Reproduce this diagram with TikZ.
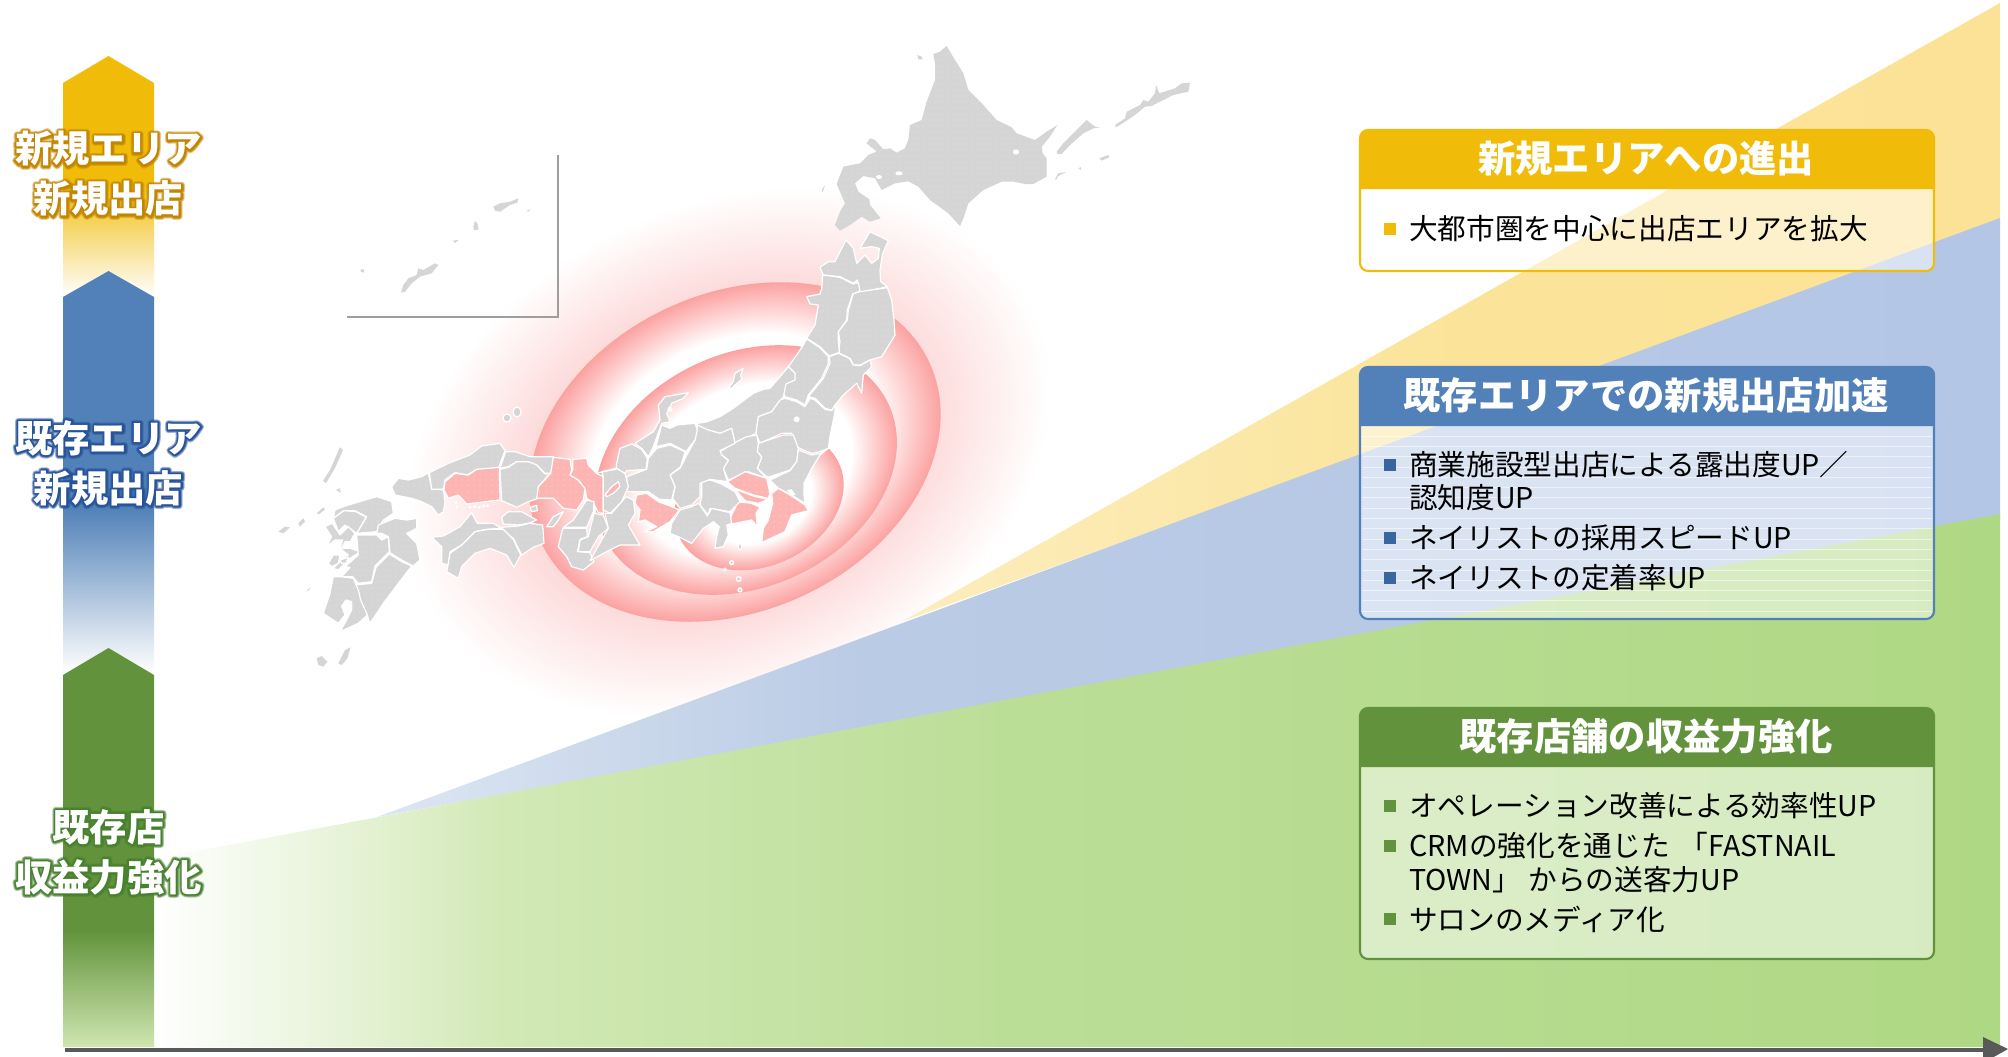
\documentclass[tikz,border=0pt]{standalone}
\usepackage{fontspec}
\usetikzlibrary{patterns.meta}
\setmainfont{Noto Sans CJK JP}
\definecolor{cy}{HTML}{F0BC09}
\definecolor{cb}{HTML}{5181B8}
\definecolor{cg}{HTML}{62933C}
\definecolor{bully}{HTML}{F0BC09}
\definecolor{bullb}{HTML}{3A669F}
\definecolor{bullg}{HTML}{62933C}
\definecolor{mapg}{HTML}{D5D5D5}
\definecolor{mapp}{HTML}{FDB5B3}
\definecolor{ringp}{HTML}{FBA2A1}
\definecolor{glowp}{HTML}{FDD8D8}
\definecolor{gw1}{HTML}{D2E9B6}\definecolor{gw2}{HTML}{BBDE97}\definecolor{gw3}{HTML}{AFD884}
\definecolor{bw1}{HTML}{DDE6F2}\definecolor{bw2}{HTML}{BACBE5}\definecolor{bw3}{HTML}{B3C6E6}
\definecolor{yw1}{HTML}{FCEDBD}\definecolor{yw2}{HTML}{FBE49A}\definecolor{yw3}{HTML}{FCE296}
\definecolor{gfade}{HTML}{CFE6B0}
\pgfdeclarehorizontalshading{greenw}{100bp}{color(0bp)=(white);color(25bp)=(white);color(34.4bp)=(gw1);color(48bp)=(gw2);color(75bp)=(gw3);color(100bp)=(gw3)}
\pgfdeclarehorizontalshading{bluew}{100bp}{color(0bp)=(bw1);color(25bp)=(bw1);color(40bp)=(bw2);color(75bp)=(bw3);color(100bp)=(bw3)}
\pgfdeclarehorizontalshading{yelw}{100bp}{color(0bp)=(yw1);color(25bp)=(yw1);color(50bp)=(yw2);color(75bp)=(yw3);color(100bp)=(yw3)}
\pgfdeclareverticalshading{yarrow}{100bp}{color(0bp)=(white);color(25bp)=(white);color(48.6bp)=(cy);color(100bp)=(cy)}
\pgfdeclareverticalshading{barrow}{100bp}{color(0bp)=(white);color(25bp)=(white);color(45.6bp)=(cb);color(100bp)=(cb)}
\pgfdeclareverticalshading{garrow}{100bp}{color(0bp)=(gfade);color(25bp)=(gfade);color(39.7bp)=(cg);color(100bp)=(cg)}
\pgfdeclareradialshading{glowsh}{\pgfpointorigin}{color(0bp)=(glowp);color(15bp)=(glowp);color(25bp)=(white);color(50bp)=(white)}
\pgfdeclareradialshading{ringa}{\pgfpointorigin}{color(0bp)=(white);color(17.5bp)=(white);color(25bp)=(ringp);color(50bp)=(ringp)}
\pgfdeclareradialshading{ringc}{\pgfpointorigin}{color(0bp)=(white);color(15.5bp)=(white);color(25bp)=(ringp);color(50bp)=(ringp)}
% a white line of text with a soft halo of colour #1 (one source text, halo strokes under the fill)
\newcommand\halotext[2]{%
  \makebox[0pt][l]{\pgfsetstrokeopacity{0.4}\special{pdf:code #1 RG 1 j 5 w 1 Tr}#2}%
  \makebox[0pt][l]{\pgfsetstrokeopacity{0.65}\special{pdf:code #1 RG 1 j 3.6 w 1 Tr}#2}%
  \makebox[0pt][l]{\pgfsetstrokeopacity{1}\special{pdf:code #1 RG 1 j 2.2 w 1 Tr}#2\special{pdf:code 0 Tr}}%
  #2}
\tikzset{
  crop/.style 2 args={shift={(#1,#2)},x=0.25pt,y=-0.25pt},
  dotted map/.style={postaction={pattern={Dots[radius=0.22pt,distance=4.5pt]},pattern color=white}},
  mg/.style={fill=mapg,draw=white,line width=0.9pt,line join=round,dotted map},
  mp/.style={fill=mapp,draw=white,line width=0.9pt,line join=round,dotted map},
  mi/.style={fill=mapg,draw=none,dotted map},
  mh/.style={fill=white,draw=none},
  title/.style={text=white,font=\fontsize{28pt}{34pt}\selectfont\bfseries,anchor=center,inner sep=0pt},
  item/.style={text=black,font=\fontsize{21.5pt}{25.1pt}\selectfont,anchor=west,align=left,inner sep=0pt},
  side/.style={text=white,font=\fontsize{28pt}{37.5pt}\selectfont\bfseries,anchor=center,align=center,inner sep=0pt},
  panelb/.style={fill=white,fill opacity=.5,draw=#1,draw opacity=1,line width=1.6pt,rounded corners=6pt},
  bulletm/.style={fill=#1,minimum size=8.6pt,inner sep=0pt,draw=none,anchor=center}
}
\begin{document}
\begin{tikzpicture}[x=0.75pt,y=-0.75pt]
\path[use as bounding box,fill=white] (0,0) rectangle (2008,1056);
% ---- glow and rings
\shade[shading=glowsh,transform canvas={shift={(728,452)},rotate=24.5}] (0,0) ellipse [x radius=252pt,y radius=186pt];
\shade[shading=ringa,transform canvas={shift={(735,452)},rotate=24.5}] (0,0) ellipse [x radius=160.5pt,y radius=119.25pt];
\shade[shading=ringa,transform canvas={shift={(746,470)},rotate=24.5}] (0,0) ellipse [x radius=117.75pt,y radius=87.75pt];
\shade[shading=ringc,transform canvas={shift={(759,500)},rotate=24.5}] (0,0) ellipse [x radius=66pt,y radius=49.5pt];
% ---- wedges
\shade[shading=yelw] (903,621) -- (2000,3) -- (2000,225) -- cycle;
\shade[shading=bluew] (377,817) -- (2000,218) -- (2000,520) -- cycle;
\shade[shading=greenw] (154,859) -- (2000,514) -- (2000,1047) -- (154,1047) -- cycle;
% ---- left arrows
\shade[shading=yarrow] (63,297) -- (63,83) -- (108.5,56) -- (154,83) -- (154,297) -- cycle;
\shade[shading=barrow] (63,673) -- (63,297) -- (108.5,271) -- (154,297) -- (154,673) -- cycle;
\shade[shading=garrow] (63,1047) -- (63,675) -- (108.5,648) -- (154,675) -- (154,1047) -- cycle;
% ---- axis
\coordinate (axisL) at (65,1050);
\coordinate (axisR) at (1985,1050);
\draw[draw=black!65,line width=3.6pt] (axisL) -- (axisR);
\fill[black!65] (1983,1037) -- (2008,1049) -- (1983,1063) -- cycle;
% ---- inset frame
\coordinate (insA) at (558,155);\coordinate (insB) at (558,317);\coordinate (insC) at (347,317);
\draw[draw=black!38,line width=0.9pt] (insA) -- (insB) -- (insC);
% ---- Okinawa inset
\begin{scope}[crop={340}{150}]
\fill[mi] plot coordinates {(183,428) (190,405) (205,385) (230,375) (235,355) (250,360) (285,340) (295,345) (275,370) (240,380) (215,400) (195,425)} -- cycle;
\fill[mi] plot coordinates {(405,213) (412,220) (416,238) (402,241) (400,230)} -- cycle;
\fill[mi] plot coordinates {(460,170) (480,160) (510,155) (535,145) (532,158) (510,165) (480,185) (465,182)} -- cycle;
\fill[mi] plot coordinates {(62,358) (72,358) (72,368) (62,365)} -- cycle;
\fill[mi] plot coordinates {(338,272) (356,270) (345,279)} -- cycle;
\fill[mi] plot coordinates {(560,182) (572,178) (565,185)} -- cycle;
\end{scope}
% ---- Hokkaido
\begin{scope}[crop={820}{40}]
\fill[mi] plot coordinates {(340,42) (360,35) (380,18) (405,60) (430,100) (445,150) (490,195) (530,240) (575,262) (590,280) (645,300) (680,275) (712,255) (690,290) (665,320) (668,340) (680,355) (680,410) (640,432) (615,432) (580,425) (545,425) (490,450) (445,490) (432,530) (420,558) (385,520) (330,480) (295,440) (265,424) (225,430) (185,450) (165,415) (130,408) (105,430) (115,455) (148,478) (150,495) (182,535) (150,545) (125,530) (90,555) (60,572) (45,555) (60,515) (75,490) (62,460) (50,432) (70,380) (120,370) (145,345) (170,335) (140,310) (150,295) (165,300) (190,328) (210,325) (230,338) (255,325) (265,300) (270,255) (305,240) (320,185) (345,120) (345,70)} -- cycle;
\fill[mh] (588,336) ellipse [x radius=9,y radius=8];
\fill[mh] (237,400) ellipse [x radius=11,y radius=6];
\fill[mh] (177,411) ellipse [x radius=9,y radius=6];
\fill[mi] plot coordinates {(292,45) (305,50) (308,58) (295,58)} -- cycle;
\fill[mi] plot coordinates {(710,335) (730,310) (770,270) (800,240) (825,260) (840,262) (820,265) (790,280) (750,315) (725,342) (712,342)} -- cycle;
\fill[mi] plot coordinates {(885,255) (915,235) (920,215) (960,195) (970,180) (985,185) (1005,160) (1008,135) (1018,160) (1065,145) (1085,130) (1110,128) (1105,155) (1060,165) (1010,190) (995,198) (975,200) (945,225) (915,245) (888,262)} -- cycle;
\fill[mi] plot coordinates {(838,355) (865,345) (868,352) (845,362)} -- cycle;
\fill[mi] plot coordinates {(775,385) (782,381) (783,390)} -- cycle;
\fill[mi] plot coordinates {(705,418) (715,400) (738,396) (715,408) (708,420)} -- cycle;
\fill[mi] plot coordinates {(5,450) (15,435) (12,445) (8,456)} -- cycle;
\end{scope}
% ---- Tohoku
\begin{scope}[crop={760}{220}]
\draw[mg] plot coordinates {(180,142) (205,125) (225,125) (258,60) (280,85) (290,130) (315,105) (335,130) (355,115) (358,85) (335,80) (300,85) (330,35) (385,62) (368,100) (360,150) (362,185) (382,200) (300,218) (292,180) (280,190) (240,170) (190,165)} -- cycle;
\draw[mg] plot coordinates {(382,203) (395,240) (402,300) (405,345) (390,370) (365,410) (330,420) (300,435) (280,435) (270,415) (235,398) (240,365) (235,335) (262,300) (265,270) (280,220) (300,215)} -- cycle;
\draw[mg] plot coordinates {(188,165) (240,172) (280,192) (295,188) (300,213) (278,222) (262,270) (260,300) (235,335) (235,365) (238,397) (208,408) (180,380) (140,355) (165,315) (175,255) (150,252) (140,230) (180,222) (185,205)} -- cycle;
\draw[mg] plot coordinates {(140,357) (178,382) (205,410) (205,430) (185,475) (145,525) (135,555) (110,540) (75,530) (65,510) (78,490) (100,480) (105,460) (85,440) (110,405) (130,375)} -- cycle;
\draw[mg] plot coordinates {(208,410) (235,400) (268,415) (280,435) (300,437) (330,420) (335,440) (310,465) (305,520) (290,490) (250,525) (225,555) (215,570) (195,565) (165,535) (145,530) (190,475) (210,430)} -- cycle;
\end{scope}
% ---- Chubu and Kanto
\begin{scope}[crop={620}{380}]
\draw[mg] plot coordinates {(232,130) (262,125) (300,110) (340,85) (400,40) (430,28) (450,25) (480,-10) (505,-40) (525,-20) (525,0) (498,12) (490,50) (455,95) (415,110) (408,160) (345,190) (335,145) (300,160) (265,150) (235,150)} -- cycle;
\draw[mg] plot coordinates {(328,20) (340,5) (345,-20) (370,-35) (362,-15) (365,-2) (345,15) (333,27)} -- cycle;
\draw[mg] plot coordinates {(480,60) (495,55) (530,65) (555,80) (570,55) (585,60) (615,88) (635,92) (648,75) (642,110) (630,170) (625,205) (600,215) (575,220) (550,210) (530,200) (515,160) (485,160) (420,190) (408,160) (415,110) (455,95)} -- cycle;
\fill[mh] (530,118) circle [radius=9];
\draw[mg] plot coordinates {(415,190) (490,165) (520,165) (535,205) (530,245) (510,270) (450,290) (440,290) (412,265) (425,230) (412,215)} -- cycle;
\draw[mg] plot coordinates {(300,215) (340,190) (380,170) (410,165) (415,190) (412,215) (425,232) (412,265) (440,295) (385,275) (325,300) (310,265) (325,240) (305,225)} -- cycle;
\draw[mg] plot coordinates {(535,210) (575,225) (600,220) (625,205) (600,225) (575,265) (552,310) (552,345) (555,370) (515,345) (475,325) (450,300) (510,272) (530,245)} -- cycle;
\fill[mh] plot coordinates {(500,330) (515,328) (527,345) (515,347)} -- cycle;
\draw[mp] plot coordinates {(322,305) (375,275) (440,295) (450,340) (445,355) (400,345) (360,330) (345,325)} -- cycle;
\draw[mp] plot coordinates {(345,328) (400,348) (445,358) (415,370) (375,362) (360,345)} -- cycle;
\draw[mp] plot coordinates {(455,340) (475,325) (515,348) (555,375) (565,392) (515,405) (495,455) (425,488) (430,445) (445,420) (458,370)} -- cycle;
\draw[mp] plot coordinates {(355,365) (395,370) (420,382) (408,400) (412,440) (395,420) (335,432) (330,415)} -- cycle;
\draw[mg] plot coordinates {(245,305) (270,300) (300,310) (345,335) (360,365) (330,395) (270,385) (265,405) (240,375) (245,350)} -- cycle;
\draw[mg] plot coordinates {(235,370) (240,375) (262,408) (275,385) (330,398) (335,430) (320,435) (325,465) (310,500) (285,505) (290,470) (298,440) (280,425) (250,445) (215,490) (175,470) (150,460) (155,430) (180,390) (215,380)} -- cycle;
\draw[mp] plot coordinates {(50,345) (80,340) (115,365) (150,378) (178,390) (150,425) (100,455) (75,455) (110,440) (75,420) (55,425) (60,390) (45,370)} -- cycle;
\draw[mg] plot coordinates {(232,135) (265,150) (300,160) (335,145) (345,190) (300,212) (305,225) (325,242) (310,265) (322,305) (270,298) (240,310) (240,350) (215,375) (180,385) (158,355) (165,320) (150,285) (180,265) (198,230) (225,180)} -- cycle;
\draw[mg] plot coordinates {(110,205) (150,195) (195,215) (182,260) (150,285) (165,320) (155,360) (118,358) (85,335) (20,335) (20,290) (80,268) (85,235)} -- cycle;
\draw[mg] plot coordinates {(108,200) (125,135) (150,145) (170,135) (225,130) (232,150) (225,180) (198,215) (150,190)} -- cycle;
\draw[mg] plot coordinates {(45,190) (100,155) (120,120) (115,75) (135,50) (205,38) (190,55) (155,70) (140,100) (150,125) (125,130) (100,200) (85,230) (65,205)} -- cycle;
\fill[mh] (150,88) circle [radius=8];
\fill[mh] (142,450) circle [radius=8];
\end{scope}
% ---- Kinki, Chugoku, Shikoku
\begin{scope}[crop={390}{430}]
\draw[mg] plot coordinates {(5,170) (25,145) (55,150) (95,140) (115,128) (125,175) (160,180) (165,215) (160,245) (145,255) (125,230) (95,215) (65,205) (15,195)} -- cycle;
\draw[mg] plot coordinates {(118,128) (175,100) (240,75) (275,48) (330,40) (345,62) (325,115) (260,118) (232,135) (195,128) (165,150) (160,178) (125,178)} -- cycle;
\draw[mp] plot coordinates {(165,155) (195,130) (235,135) (260,118) (328,112) (330,210) (310,212) (230,222) (205,195) (175,205) (162,180)} -- cycle;
\draw[mg] plot coordinates {(347,65) (375,65) (420,80) (490,80) (488,130) (465,130) (440,105) (415,95) (380,95) (355,110) (330,115)} -- cycle;
\draw[mg] plot coordinates {(330,118) (355,112) (380,95) (415,95) (440,105) (465,132) (480,130) (445,170) (445,205) (415,215) (380,232) (365,225) (335,212)} -- cycle;
\draw[mp] plot coordinates {(490,82) (540,88) (545,120) (540,135) (565,150) (585,175) (580,210) (560,240) (520,235) (490,205) (440,205) (445,170) (482,130)} -- cycle;
\draw[mg] plot coordinates {(470,290) (490,260) (520,245) (505,270) (490,290)} -- cycle;
\draw[mg] plot coordinates {(420,232) (440,226) (442,242) (425,245)} -- cycle;
\draw[mp] plot coordinates {(548,88) (590,85) (595,105) (620,130) (640,140) (640,180) (640,225) (640,250) (625,248) (610,220) (590,205) (585,175) (565,150) (540,135) (548,120)} -- cycle;
\draw[mg] plot coordinates {(635,125) (680,115) (705,130) (715,170) (695,215) (660,250) (640,240) (640,140)} -- cycle;
\draw[mp] plot coordinates {(645,195) (665,170) (685,155) (690,170) (670,190) (650,200)} -- cycle;
\draw[mg] plot coordinates {(620,130) (640,125) (678,118) (680,100) (690,55) (725,42) (755,58) (772,85) (768,118) (710,122) (705,130) (680,115)} -- cycle;
\draw[mg] plot coordinates {(590,210) (612,215) (610,245) (590,292) (520,292) (550,270) (570,240)} -- cycle;
\draw[mg] plot coordinates {(612,250) (640,255) (655,295) (625,320) (600,365) (565,365) (570,330) (595,320)} -- cycle;
\draw[mg] plot coordinates {(518,295) (590,295) (592,320) (570,328) (562,365) (600,368) (612,395) (580,420) (545,410) (530,380) (505,350)} -- cycle;
\draw[mg] plot coordinates {(645,250) (665,250) (708,200) (730,210) (735,250) (715,285) (750,345) (690,345) (650,365) (600,392) (655,295)} -- cycle;
\draw[mg] plot coordinates {(125,322) (160,318) (210,290) (245,248) (262,280) (310,280) (335,295) (290,298) (255,305) (215,345) (180,365) (175,405) (155,400) (155,350)} -- cycle;
\draw[mg] plot coordinates {(335,262) (355,245) (395,245) (440,270) (415,280) (385,285) (340,282)} -- cycle;
\draw[mg] plot coordinates {(335,292) (385,288) (420,280) (458,285) (462,340) (430,352) (395,375) (370,325) (345,310)} -- cycle;
\draw[mg] plot coordinates {(180,370) (215,345) (255,305) (295,298) (340,298) (370,328) (392,375) (372,412) (350,375) (300,355) (255,370) (215,410) (205,445) (170,425) (175,400)} -- cycle;
\foreach \ix/\iy in {198/218,200/232,240/232,255/230,268/232,280/228,292/228}{\fill[mh] (\ix,\iy) circle [radius=5];}
\end{scope}
% ---- Oki and Izu islands
\begin{scope}[crop={560}{500}]
\draw[mg] (540,140) ellipse [x radius=5,y radius=10];
\draw[mg] (515,188) circle [radius=6];
\draw[mg] (495,208) circle [radius=4];
\draw[mg] (536,237) circle [radius=7];
\draw[mg] (540,270) circle [radius=6];
\end{scope}
\draw[mg] (517,412) ellipse [x radius=4,y radius=5];
\draw[mg] (507,418) ellipse [x radius=4,y radius=4];
% ---- Kyushu
\begin{scope}[crop={270}{480}]
\draw[mg] plot coordinates {(195,90) (220,80) (245,72) (320,50) (365,65) (370,100) (340,120) (320,155) (260,160) (290,110) (255,92) (220,92) (190,115)} -- cycle;
\draw[mg] plot coordinates {(190,115) (222,92) (258,95) (288,112) (260,160) (225,135) (205,155)} -- cycle;
\draw[mg] plot coordinates {(165,140) (187,130) (210,165) (235,140) (255,160) (240,185) (225,185) (215,205) (240,205) (270,215) (240,235) (205,270) (190,265) (215,240) (235,225) (210,205) (218,180) (195,180) (170,200) (185,170)} -- cycle;
\fill[mi] plot coordinates {(25,155) (45,140) (60,142) (40,160)} -- cycle;
\fill[mi] plot coordinates {(85,130) (100,115) (105,125) (90,140)} -- cycle;
\fill[mi] plot coordinates {(198,30) (210,24) (212,38)} -- cycle;
\fill[mi] plot coordinates {(108,335) (120,322) (118,330)} -- cycle;
\fill[mi] plot coordinates {(140,100) (160,82) (165,88) (148,102)} -- cycle;
\draw[mg] plot coordinates {(175,250) (190,225) (210,225) (205,250) (185,260)} -- cycle;
\draw[mg] plot coordinates {(210,240) (235,232) (228,250) (215,250)} -- cycle;
\draw[mg] plot coordinates {(325,135) (375,115) (410,120) (440,115) (440,145) (410,160) (440,190) (450,240) (430,258) (395,240) (360,218) (355,170) (335,160) (320,160)} -- cycle;
\draw[mg] plot coordinates {(260,165) (320,165) (335,180) (355,170) (358,215) (315,258) (305,305) (265,310) (248,290) (215,290) (240,262) (225,260) (265,225) (262,190)} -- cycle;
\draw[mg] plot coordinates {(358,222) (395,245) (425,258) (385,310) (340,370) (300,430) (290,400) (270,360) (255,315) (305,310) (318,262)} -- cycle;
\draw[mg] plot coordinates {(190,290) (212,290) (250,295) (265,330) (272,360) (292,405) (265,430) (210,455) (230,420) (245,390) (245,365) (228,360) (215,378) (225,405) (205,430) (160,400) (180,340)} -- cycle;
\fill[mi] plot coordinates {(140,535) (155,528) (172,545) (160,560) (145,555)} -- cycle;
\fill[mi] plot coordinates {(205,550) (225,510) (242,502) (232,535) (215,555)} -- cycle;
\end{scope}
% Tsushima
\fill[mi] plot coordinates {(323,481) (330,470) (340,447) (343,450) (335,468) (326,483)} -- cycle;
% ---- side labels
\node[side] (sideY) at (108.5,174) {\halotext{0.76 0.52 0}{新規エリア}\\\halotext{0.76 0.52 0}{新規出店}};
\node[side] (sideB) at (108.5,463) {\halotext{0.15 0.32 0.60}{既存エリア}\\\halotext{0.15 0.32 0.60}{新規出店}};
\node[side] (sideG) at (108.5,852) {\halotext{0.28 0.50 0.18}{既存店}\\\halotext{0.28 0.50 0.18}{収益力強化}};
% ---- panel 1
\draw[panelb=cy] (1360,130) rectangle (1934,271);
\fill[cy] (1360,189) [rounded corners=6pt] -- (1360,130) -- (1934,130) [sharp corners] -- (1934,189) -- cycle;
\node[title] (t1) at (1646,158) {新規エリアへの進出};
\node[bulletm=bully] (b11) at (1390,229) {};
\node[item] (i11) at (1409,229) {大都市圏を中心に出店エリアを拡大};
% ---- panel 2
\draw[panelb=cb] (1360,367) rectangle (1934,619);
\foreach \sy in {436,446.3,...,612}{\draw[white,opacity=.55,line width=0.6pt] (1362,\sy) -- (1932,\sy);}
\fill[cb] (1360,426) [rounded corners=6pt] -- (1360,367) -- (1934,367) [sharp corners] -- (1934,426) -- cycle;
\node[title] (t2) at (1646,395) {既存エリアでの新規出店加速};
\node[bulletm=bullb] (b21) at (1390,465) {};
\node[item] (i21) at (1409,481) {商業施設型出店による露出度UP／\\認知度UP};
\node[bulletm=bullb] (b22) at (1390,538) {};
\node[item] (i22) at (1409,538) {ネイリストの採用スピードUP};
\node[bulletm=bullb] (b23) at (1390,578) {};
\node[item] (i23) at (1409,578) {ネイリストの定着率UP};
% ---- panel 3
\draw[panelb=cg] (1360,708) rectangle (1934,959);
\fill[cg] (1360,767) [rounded corners=6pt] -- (1360,708) -- (1934,708) [sharp corners] -- (1934,767) -- cycle;
\node[title] (t3) at (1646,736) {既存店舗の収益力強化};
\node[bulletm=bullg] (b31) at (1390,806) {};
\node[item] (i31) at (1409,806) {オペレーション改善による効率性UP};
\node[bulletm=bullg] (b32) at (1390,846) {};
\node[item] (i32) at (1409,862.5) {CRMの強化を通じた\kern.35em「FASTNAIL\\TOWN」\kern.25em からの送客力UP};
\node[bulletm=bullg] (b33) at (1390,919) {};
\node[item] (i33) at (1409,919) {サロンのメディア化};
\end{tikzpicture}
\end{document}
